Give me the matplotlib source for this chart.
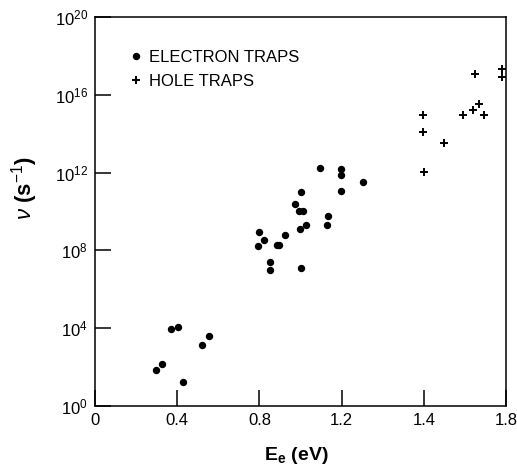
import numpy as np
import matplotlib
matplotlib.use('Agg')
import matplotlib.pyplot as plt

plt.rcParams['font.family'] = ['Liberation Sans', 'DejaVu Sans']
plt.rcParams['mathtext.fontset'] = 'custom'
plt.rcParams['mathtext.rm'] = 'Liberation Sans'
plt.rcParams['mathtext.it'] = 'Liberation Sans:italic'
plt.rcParams['mathtext.bf'] = 'Liberation Sans:bold'

# electron traps: energy (axis units) and log10(rate)
elec_x = [1.095, 1.199, 1.196, 1.302, 1.197, 1.001, 0.973, 0.993, 1.010, 1.134,
          1.028, 1.131, 0.998, 0.796, 0.821, 0.925, 0.795, 0.885, 0.895, 0.853,
          0.853, 1.004, 0.368, 0.402, 0.555, 0.521, 0.326, 0.298, 0.428]
elec_logy = [12.26, 12.19, 11.86, 11.52, 11.06, 10.99, 10.39, 10.0, 10.0, 9.78,
             9.33, 9.33, 9.09, 8.96, 8.55, 8.77, 8.21, 8.27, 8.27, 7.42,
             6.99, 7.08, 3.98, 4.05, 3.62, 3.15, 2.15, 1.83, 1.25]

# hole traps
hole_x = [1.594, 1.594, 1.700, 1.792, 1.838, 1.870, 1.894, 1.851, 1.979, 1.979, 1.603]
hole_logy = [14.96, 14.07, 13.52, 14.96, 15.23, 15.52, 14.96, 17.09, 17.32, 16.92, 12.03]

xtick_pos = [0, 0.4, 0.8, 1.2, 1.6, 2.0]
xtick_labels = ['0', '0.4', '0.8', '1.2', '1.4', '1.8']
ytick_exp = [0, 4, 8, 12, 16, 20]

fig = plt.figure(figsize=(5.17, 4.69), dpi=100)
ax = fig.add_axes([0.1838, 0.1343, 0.7949, 0.8295])

ax.plot(elec_x, 10.0 ** np.array(elec_logy), 'o', color='black', markersize=4.3,
        linestyle='none', label='ELECTRON TRAPS')
ax.plot(hole_x, 10.0 ** np.array(hole_logy), '+', color='black', markersize=5.5,
        markeredgewidth=1.4, linestyle='none', label='HOLE TRAPS')

ax.set_yscale('log')
ax.set_xlim(0, 2.0)
ax.set_ylim(1, 1e20)
ax.set_xticks(xtick_pos)
ax.set_xticklabels(xtick_labels)
ax.set_yticks([10.0 ** e for e in ytick_exp])
ax.set_yticklabels([r'$10^{%d}$' % e for e in ytick_exp])
ax.minorticks_off()
ax.tick_params(axis='both', direction='in', length=11.5, width=1.1, labelsize=12, pad=5)
for s in ax.spines.values():
    s.set_linewidth(1.1)

ax.set_xlabel(r'$\mathbf{E_e}$ (eV)', fontsize=14, fontweight='bold')
ax.xaxis.set_label_coords(0.49, -0.1)
ax.set_ylabel(r'$\nu$ (s$^{-1}$)', fontsize=16, fontweight='bold')
ax.yaxis.set_label_coords(-0.135, 0.56)

ax.legend(loc='upper left', bbox_to_anchor=(0.065, 0.932), frameon=False, fontsize=12,
          handletextpad=0.35, handlelength=0.9, labelspacing=0.55, borderaxespad=0)

fig.savefig('out.png', dpi=100)
